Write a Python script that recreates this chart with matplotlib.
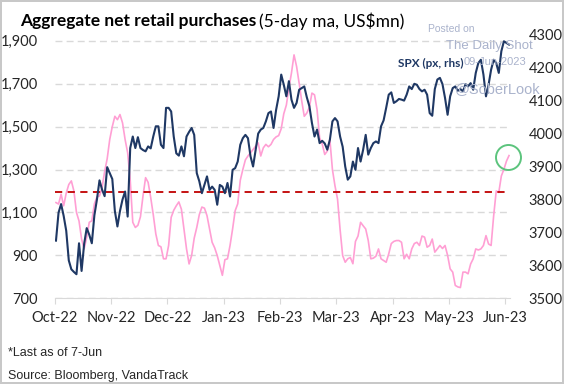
import matplotlib
matplotlib.use("Agg")
import matplotlib.pyplot as plt
import numpy as np

# aggregate net retail purchases, 5-day ma, US$mn (one value per weekday, 3-Oct-22 .. 7-Jun-23)
flows = [
    1146, 1139, 1185, 1131, 1190, 1230, 1247, 1200, 1100, 1060,
    976, 930, 984, 1054, 1061, 1140, 1172, 1177, 1215, 1290,
    1350, 1440, 1500, 1548, 1532, 1556, 1517, 1440, 1378, 1250,
    1054, 1030, 1040, 1080, 1177, 1262, 1240, 1170, 1090, 1000,
    946, 940, 884, 884, 946, 1077, 1110, 1131, 1149, 1115,
    1023, 930, 860, 900, 980, 1030, 1090, 1125, 1120, 1085,
    1023, 961, 935, 899, 853, 807, 880, 884, 946, 1023,
    1108, 1140, 1250, 1300, 1345, 1363, 1378, 1393, 1409, 1424,
    1363, 1401, 1417, 1406, 1417, 1440, 1452, 1458, 1490, 1560,
    1600, 1680, 1750, 1834, 1780, 1702, 1620, 1548, 1563, 1590,
    1656, 1648, 1579, 1447, 1420, 1370, 1386, 1440, 1300, 1224,
    1162, 1020, 899, 868, 884, 890, 861, 965, 990, 1054,
    1038, 1023, 969, 884, 887, 896, 930, 884, 876, 868,
    907, 955, 965, 969, 969, 961, 884, 905, 884, 930,
    955, 961, 946, 990, 985, 938, 946, 976, 915, 930,
    946, 932, 946, 900, 837, 822, 760, 753, 750, 822,
    822, 814, 860, 884, 930, 925, 930, 946, 992, 953,
    946, 1085, 1200, 1193, 1270, 1301, 1339, 1365,
]

# S&P 500 close (rhs)
spx = [
    3675, 3760, 3786, 3750, 3705, 3615, 3588, 3580, 3573, 3667,
    3583, 3665, 3713, 3693, 3667, 3752, 3800, 3858, 3830, 3810,
    3898, 3880, 3862, 3765, 3718, 3765, 3800, 3824, 3748, 3956,
    3991, 3956, 3989, 3956, 3950, 3946, 3961, 3955, 3991, 4022,
    4022, 3966, 3956, 4078, 4078, 4067, 3991, 3940, 3933, 3961,
    3931, 3991, 4005, 4017, 3996, 3880, 3855, 3819, 3845, 3870,
    3829, 3839, 3829, 3784, 3844, 3839, 3819, 3850, 3809, 3890,
    3895, 3915, 3966, 3986, 3996, 3986, 3931, 3900, 3950, 4000,
    4012, 4017, 4037, 4062, 4067, 4017, 4072, 4113, 4179, 4148,
    4113, 4159, 4103, 4078, 4093, 4133, 4138, 4143, 4110, 4083,
    4032, 3991, 4012, 3971, 3978, 3970, 3951, 3981, 4037, 4047,
    4037, 3991, 3960, 3900, 3860, 3870, 3915, 3890, 3956, 3915,
    3951, 3996, 3936, 3956, 3971, 3976, 3971, 4022, 4040, 4078,
    4118, 4125, 4093, 4098, 4105, 4103, 4100, 4118, 4143, 4135,
    4151, 4148, 4135, 4128, 4133, 4118, 4062, 4054, 4135, 4164,
    4169, 4150, 4108, 4057, 4113, 4138, 4143, 4130, 4135, 4128,
    4150, 4143, 4153, 4133, 4184, 4214, 4224, 4179, 4113, 4148,
    4194, 4224, 4214, 4184, 4250, 4280, 4275, 4270,
]

avg_flow = 1195
month_labels = ["Oct-22", "Nov-22", "Dec-22", "Jan-23", "Feb-23",
                "Mar-23", "Apr-23", "May-23", "Jun-23"]
left_ticks = [700, 900, 1100, 1300, 1500, 1700, 1900]
right_ticks = [3500, 3600, 3700, 3800, 3900, 4000, 4100, 4200, 4300]

navy = "#1f3864"
pink = "#ff9fd4"
grey = "#d9d9d9"
txt = "#262626"

days = np.arange(len(flows))

fig = plt.figure(figsize=(5.64, 3.84), dpi=100)
fig.patch.set_edgecolor("#c8c8c8")
fig.patch.set_linewidth(1.5)

ax = fig.add_axes([0.097, 0.2232, 0.8078, 0.6864])
ax2 = ax.twinx()

ax.plot(days, flows, color=pink, lw=1.2, zorder=3)
ax.axhline(avg_flow, color="#c00000", lw=1.3, ls=(0, (4, 3)), zorder=4)
ax2.plot(days, spx, color=navy, lw=1.5, zorder=3)

# green circle round the latest reading
ax.plot(days[-1] - 0.3, flows[-1] - 8, marker="o", ms=18, mfc="none",
        mec="#5cc47d", mew=1.4, zorder=5, clip_on=False)

ax.set_xlim(-0.5, len(flows) - 0.5)
ax.set_ylim(700, 1928)
ax2.set_ylim(3500, 4300)

ax.set_yticks(left_ticks)
ax.set_yticklabels([f"{v:,}" for v in left_ticks])
ax2.set_yticks(right_ticks)
ax2.set_yticklabels([str(v) for v in right_ticks])

tick_pos = [22 * k - 0.5 for k in range(len(month_labels))]
ax.set_xticks(tick_pos)
ax.set_xticklabels(month_labels)

ax.yaxis.grid(True, color=grey, lw=1.0, ls=(0, (5, 3)))
ax.set_axisbelow(True)
for a in (ax, ax2):
    for s in ("left", "right", "top", "bottom"):
        a.spines[s].set_visible(False)
ax.spines["bottom"].set_visible(True)
ax.spines["bottom"].set_color(grey)

ax.tick_params(axis="y", length=0, pad=12, labelsize=10.5, labelcolor=txt)
ax2.tick_params(axis="y", length=0, pad=13, labelsize=10.5, labelcolor=txt)
ax.tick_params(axis="x", length=4, color=grey, pad=5, labelsize=10.5,
               labelcolor=txt)
for lab in ax.get_xticklabels() + ax.get_yticklabels() + ax2.get_yticklabels():
    lab.set_fontfamily("Lato")

ax2.text(133.5, 4212, "SPX (px, rhs)", color=navy, fontsize=8.5,
         fontweight="bold", family="Lato", va="center", ha="left")

# title: bold part then regular part
t1 = fig.text(0.035, 0.945, "Aggregate net retail purchases", fontsize=12.5,
              fontweight="bold", family="Lato", color="black", va="center")
fig.canvas.draw()
bb = t1.get_window_extent()
fig.text(bb.x1 / fig.bbox.width + 0.006, 0.945, "(5-day ma, US$mn)",
         fontsize=12.5, family="Lato", color="black", va="center")

# watermark
wm = "#aab3cc"
fig.text(0.759, 0.925, "Posted on", fontsize=7.5, color=wm, family="Liberation Sans", va="center")
fig.text(0.790, 0.880, "The Daily Shot", fontsize=9.5, color=wm, family="Liberation Sans", va="center")
fig.text(0.822, 0.838, "09-Jun-2023", fontsize=8, color=wm, family="Liberation Sans", va="center")
fig.text(0.806, 0.768, "@SoberLook", fontsize=10.5, color=wm, family="Liberation Sans", va="center")

fig.text(0.014, 0.081, "*Last as of 7-Jun", fontsize=9, color=txt,
         family="Liberation Sans", va="center")
fig.text(0.014, 0.021, "Source: Bloomberg, VandaTrack", fontsize=9, color=txt,
         family="Liberation Sans", va="center")

fig.savefig("out.png", dpi=100)
